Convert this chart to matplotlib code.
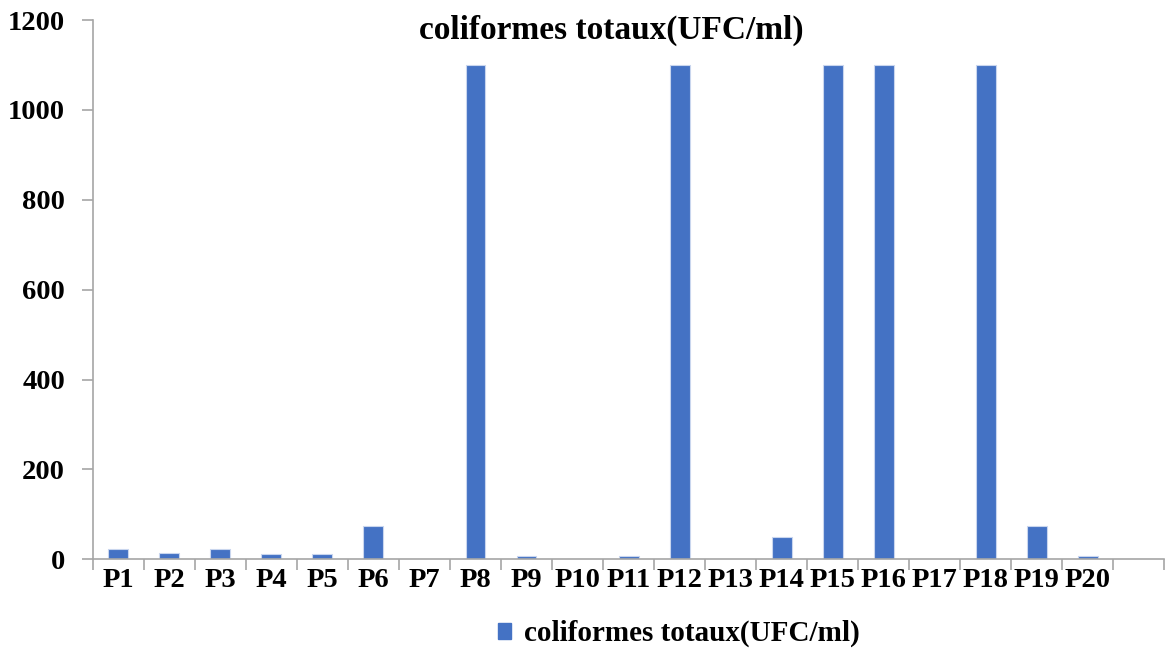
import numpy as np
import matplotlib
matplotlib.use("Agg")
import matplotlib.pyplot as plt
from matplotlib.patches import Patch

# points de prélèvement et coliformes totaux (UFC/ml)
points = ['P1', 'P2', 'P3', 'P4', 'P5', 'P6', 'P7', 'P8', 'P9', 'P10',
          'P11', 'P12', 'P13', 'P14', 'P15', 'P16', 'P17', 'P18', 'P19', 'P20', '']
coliformes = [23, 15, 23, 11, 11, 75, 0, 1100, 7, 0,
              7, 1100, 0, 50, 1100, 1100, 0, 1100, 75, 7, 0]
serie = 'coliformes totaux(UFC/ml)'

plt.rcParams['font.family'] = ['Liberation Serif', 'DejaVu Serif']
plt.rcParams['font.weight'] = 'bold'

bleu = '#4472C4'
gris = '#A6A6A6'

fig = plt.figure(figsize=(11.65, 6.67), dpi=100)
ax = fig.add_axes([0.0796, 0.1615, 0.9199, 0.8085])

x = np.arange(len(points))
ax.bar(x, coliformes, width=0.39, color=bleu, edgecolor='#C9D6EE', linewidth=0.8)

ax.set_xlim(-0.5, len(points) - 0.5)
ax.set_ylim(0, 1200)
ax.set_yticks(np.arange(0, 1201, 200))

# graduations entre les catégories, étiquettes au centre
ax.set_xticks(np.arange(-0.5, len(points), 1.0))
ax.set_xticklabels([])
ax.set_xticks(x, minor=True)
ax.set_xticklabels(points, minor=True)
ax.tick_params(axis='x', which='major', length=8, width=1.2, color=gris, direction='out')
ax.tick_params(axis='x', which='minor', length=0, pad=6, labelsize=20.5)
ax.tick_params(axis='y', length=8, width=1.2, color=gris, direction='out', pad=12, labelsize=20.5)

for s in ['top', 'right']:
    ax.spines[s].set_visible(False)
for s in ['left', 'bottom']:
    ax.spines[s].set_color(gris)
    ax.spines[s].set_linewidth(1.2)

for lab in ax.get_xticklabels(minor=True) + ax.get_yticklabels():
    lab.set_fontweight('bold')

ax.set_title(serie, fontsize=24, fontweight='bold', x=0.484, y=0.95)

fig.legend(handles=[Patch(facecolor=bleu, edgecolor=bleu, label=serie)],
           loc='lower center', bbox_to_anchor=(0.583, -0.01), frameon=False,
           prop={'size': 21, 'weight': 'bold'}, handlelength=0.45, handleheight=0.45,
           handletextpad=0.45)

fig.savefig('out.png', dpi=100)
